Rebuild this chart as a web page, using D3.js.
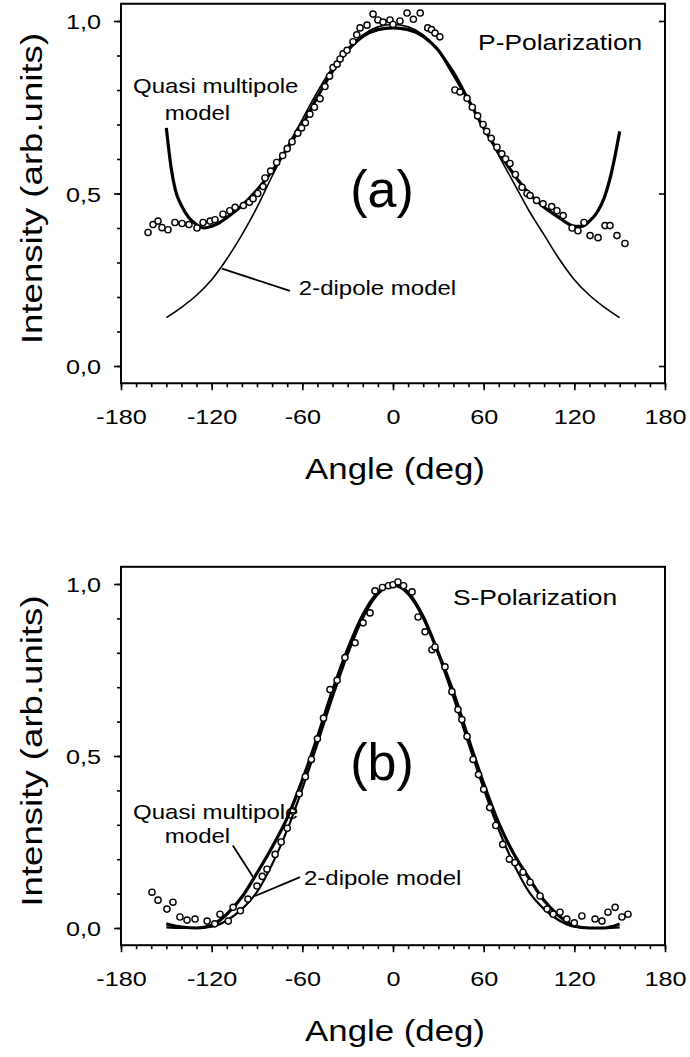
<!DOCTYPE html>
<html>
<head>
<meta charset="utf-8">
<script src="https://cdn.jsdelivr.net/npm/d3@7"></script>
<style>
  body { margin: 0; background: #fff; }
  svg { display: block; font-family: "Liberation Sans", Arial, sans-serif; }
</style>
</head>
<body>
<svg id="chart" width="690" height="1057"></svg>
<script>
// tick values
const angleTicks = [-180, -120, -60, 0, 60, 120, 180];
const angleMinor = d3.range(-180, 181, 10);
const intensityTicks = [0, 0.5, 1];
const intensityMinor = d3.range(0, 1.01, 0.1);

// (a) P-polarization, measured points [angle, intensity]
const pMeasured = [
  [-162.1,0.387],[-158.8,0.41],[-155.5,0.42],[-152.9,0.401],[-148.9,0.395],[-144.3,0.416],
  [-139.6,0.413],[-135,0.41],[-129.7,0.40],[-125.7,0.416],[-121,0.42],[-117.8,0.424],
  [-112.5,0.44],[-108,0.45],[-104.5,0.46],[-99,0.465],[-95,0.475],[-92.6,0.485],
  [-89.5,0.50],[-86,0.52],[-84.7,0.545],[-81,0.565],[-77,0.59],[-73,0.61],[-70,0.63],
  [-66.8,0.65],[-63,0.675],[-60.5,0.69],[-58,0.705],[-55,0.73],[-52,0.75],[-48.3,0.775],
  [-45,0.81],[-42,0.84],[-39.7,0.865],[-37,0.875],[-35,0.89],[-33,0.905],[-30.4,0.915],
  [-26.5,0.94],[-24,0.96],[-21.8,0.98],[-17.2,0.988],[-13.2,1.02],[-10,1.003],[-6.6,0.997],
  [-2,1.003],[0,0.99],[4.6,1.0],[9.3,1.023],[13.5,1.005],[18,1.023],[23,0.98],[25.5,0.975],
  [27.8,0.965],[31,0.954],[41,0.80],[44.3,0.794],[49,0.776],[52.5,0.75],[56,0.725],
  [59.6,0.70],[62,0.68],[65,0.66],[68.8,0.634],[72,0.615],[74.5,0.60],[77.4,0.587],
  [81,0.555],[85.4,0.518],[88.7,0.50],[90.7,0.494],[95,0.48],[99.3,0.47],[105,0.462],
  [108.5,0.45],[112.6,0.436],[118.5,0.40],[122.4,0.392],[126.4,0.416],[130.4,0.378],
  [135.7,0.372],[140.3,0.407],[143.6,0.407],[148.2,0.378],[153.5,0.355]
];

// (a) quasi multipole model (thick)
const pQuasi = [
  [-150,0.69],[-147,0.58],[-144,0.51],[-140,0.465],[-135,0.43],[-130,0.41],[-125,0.40],
  [-120,0.405],[-115,0.415],[-110,0.43],[-100,0.465],[-90,0.51],[-80,0.565],[-70,0.63],
  [-60,0.70],[-50,0.78],[-40,0.855],[-30,0.915],[-20,0.955],[-10,0.975],[0,0.98],
  [10,0.975],[20,0.955],[30,0.915],[40,0.845],[50,0.77],[60,0.69],[70,0.62],[80,0.555],
  [90,0.50],[100,0.46],[110,0.43],[115,0.415],[120,0.405],[125,0.405],[130,0.42],
  [135,0.445],[140,0.49],[144,0.55],[147,0.61],[150,0.68]
];

// (a) 2-dipole model (thin)
const pDipole = [
  [-150,0.14],[-140,0.17],[-130,0.205],[-120,0.25],[-110,0.31],[-100,0.38],[-90,0.46],
  [-80,0.55],[-70,0.635],[-60,0.715],[-50,0.795],[-40,0.865],[-30,0.92],[-20,0.96],
  [-10,0.983],[0,0.99],[10,0.983],[20,0.96],[30,0.915],[40,0.855],[50,0.775],[60,0.69],
  [70,0.61],[80,0.53],[90,0.45],[100,0.38],[110,0.31],[120,0.25],[130,0.205],[140,0.17],[150,0.14]
];

// (b) S-polarization, measured points
const sMeasured = [
  [-159.5,0.104],[-155.5,0.081],[-149.6,0.055],[-145.6,0.075],[-141,0.032],[-136.3,0.023],
  [-131,0.026],[-123,0.02],[-118,0.012],[-114.5,0.04],[-109,0.02],[-105.8,0.06],[-101,0.05],
  [-96,0.084],[-90,0.122],[-86.5,0.15],[-83.4,0.171],[-78,0.214],[-74,0.25],[-70,0.29],
  [-66,0.34],[-62,0.39],[-58,0.44],[-54,0.49],[-50,0.55],[-46,0.61],[-41.7,0.693],
  [-37,0.72],[-31.8,0.786],[-25.1,0.829],[-19.8,0.887],[-15.2,0.916],[-11.9,0.98],
  [-7,0.99],[-3,0.995],[0,0.998],[3.3,1.006],[7,0.995],[12.6,0.977],[16.6,0.904],
  [21.2,0.861],[25.8,0.809],[27.8,0.817],[34.4,0.759],[39,0.687],[43,0.635],[45.6,0.606],
  [49,0.557],[53,0.49],[56.6,0.446],[60,0.403],[64,0.35],[68,0.298],[72.6,0.243],[77,0.2],
  [80.7,0.19],[86,0.162],[90.7,0.133],[97.3,0.093],[102,0.055],[106,0.04],[110.5,0.046],
  [115,0.026],[120,0.015],[125,0.035],[133.7,0.026],[138.3,0.02],[142.3,0.046],[147,0.06],
  [151.5,0.032],[155.5,0.04]
];

// (b) quasi multipole model
const sQuasi = [
  [-150,0.012],[-145,0.006],[-140,0.003],[-130,0.0],[-120,0.008],[-110,0.04],[-100,0.09],
  [-90,0.16],[-80,0.235],[-70,0.32],[-60,0.43],[-50,0.555],[-40,0.69],[-30,0.81],[-20,0.91],
  [-10,0.975],[0,1.0],[10,0.975],[20,0.905],[30,0.80],[40,0.685],[50,0.55],[60,0.42],
  [70,0.305],[80,0.215],[90,0.145],[100,0.08],[110,0.035],[120,0.006],[130,0.0],[140,0.0],
  [145,0.004],[150,0.012]
];

// (b) 2-dipole model
const sDipole = [
  [-150,0.002],[-140,0.0],[-130,0.0],[-120,0.004],[-110,0.022],[-100,0.055],[-90,0.105],
  [-80,0.185],[-70,0.285],[-60,0.405],[-50,0.535],[-40,0.67],[-30,0.795],[-20,0.9],
  [-10,0.97],[0,0.995],[10,0.97],[20,0.9],[30,0.795],[40,0.67],[50,0.535],[60,0.405],
  [70,0.285],[80,0.185],[90,0.105],[100,0.055],[110,0.022],[120,0.004],[130,0.0],[140,0.0],[150,0.002]
];

const svg = d3.select('#chart');
const FONT_SX = 1.2; // the original lettering is wider than Arial

const locale = d3.formatLocale({decimal: ",", thousands: ".", grouping: [3], currency: ["", ""], minus: "-"});
const fmtY = locale.format(".1f");
const fmtX = locale.format("d");

const x = d3.scaleLinear([-180, 180], [121, 665]);

function label(g, px, py, txt, size, opts = {}) {
  const sx = opts.sx ?? FONT_SX;
  const rot = opts.rotate ? ` rotate(${opts.rotate})` : '';
  return g.append('text')
    .attr('transform', `translate(${px},${py})${rot} scale(${sx},1)`)
    .attr('text-anchor', opts.anchor || 'start')
    .style('font-size', size + 'px')
    .attr('fill', '#000')
    .text(txt);
}

function panel(cfg) {
  const y = d3.scaleLinear([0, 1], cfg.yRange);
  const g = svg.append('g');
  const x0 = x(-180), x1 = x(180), yTop = y(1.05), yBot = y(-0.05);

  // frame
  g.append('rect')
    .attr('x', x0).attr('y', yTop)
    .attr('width', x1 - x0).attr('height', yBot - yTop)
    .attr('fill', 'none').attr('stroke', '#000').attr('stroke-width', 2);

  // left axis minor + major
  g.append('g').attr('transform', `translate(${x0},0)`)
    .call(d3.axisLeft(y).tickValues(intensityMinor).tickSize(4).tickFormat(''))
    .call(a => a.select('.domain').remove());
  g.append('g').attr('transform', `translate(${x0},0)`)
    .call(d3.axisLeft(y).tickValues(intensityTicks).tickSize(7).tickFormat(fmtY))
    .call(a => a.select('.domain').remove())
    .call(a => a.selectAll('text')
      .attr('x', -20 / FONT_SX).attr('dy', '0.36em')
      .attr('transform', `scale(${FONT_SX},1)`)
      .style('font-size', '21px').style('font-family', null).attr('fill', '#000'));

  if (cfg.rightTicks) {
    g.append('g').attr('transform', `translate(${x1},0)`)
      .call(d3.axisLeft(y).tickValues(intensityTicks).tickSize(6).tickFormat(''))
      .call(a => a.select('.domain').remove());
  }

  // bottom axis
  g.append('g').attr('transform', `translate(0,${yBot})`)
    .call(d3.axisBottom(x).tickValues(angleMinor).tickSize(4).tickFormat(''))
    .call(a => a.select('.domain').remove());
  g.append('g').attr('transform', `translate(0,${yBot})`)
    .call(d3.axisBottom(x).tickValues(angleTicks).tickSize(7).tickFormat(fmtX))
    .call(a => a.select('.domain').remove())
    .call(a => a.selectAll('text')
      .attr('y', 41).attr('dy', 0)
      .attr('transform', `scale(${FONT_SX},1)`)
      .style('font-size', '21px').style('font-family', null).attr('fill', '#000'));
  g.selectAll('.tick line').attr('stroke', '#000').attr('stroke-width', 1.6);

  // axis titles
  label(g, 395, yBot + 96, 'Angle (deg)', 29, {anchor: 'middle'});
  label(g, 42, y(0.5) - 5, 'Intensity (arb.units)', 30, {anchor: 'middle', rotate: -90, sx: 1.22});

  const line = d3.line().x(d => x(d[0])).y(d => y(d[1])).curve(d3.curveMonotoneX);

  g.append('path').datum(cfg.dipole)
    .attr('d', line).attr('fill', 'none').attr('stroke', '#000')
    .attr('stroke-width', cfg.dipoleWidth);
  g.append('path').datum(cfg.quasi)
    .attr('d', line).attr('fill', 'none').attr('stroke', '#000')
    .attr('stroke-width', 3.2);

  g.append('g').selectAll('circle').data(cfg.measured).join('circle')
    .attr('cx', d => x(d[0])).attr('cy', d => y(d[1])).attr('r', 3.1)
    .attr('fill', '#fff').attr('stroke', '#000').attr('stroke-width', 1.4);

  // leader lines
  cfg.leaders.forEach(l => {
    g.append('line')
      .attr('x1', x(l[0][0])).attr('y1', y(l[0][1]))
      .attr('x2', x(l[1][0])).attr('y2', y(l[1][1]))
      .attr('stroke', '#000').attr('stroke-width', 1.8);
  });

  cfg.notes.forEach(n => label(g, x(n.at[0]), y(n.at[1]), n.text, n.size,
    {anchor: n.anchor, sx: n.sx}));
}

panel({
  yRange: [366, 21],
  rightTicks: true,
  measured: pMeasured, quasi: pQuasi, dipole: pDipole, dipoleWidth: 1.6,
  leaders: [[[-113.2, 0.282], [-68.2, 0.218]]],
  notes: [
    {text: 'Quasi multipole', at: [-172, 0.79], size: 20},
    {text: 'model', at: [-151, 0.712], size: 20},
    {text: '2-dipole model', at: [-62.3, 0.205], size: 20},
    {text: 'P-Polarization', at: [56.3, 0.916], size: 22},
    {text: '(a)', at: [-7.3, 0.46], size: 52, anchor: 'middle', sx: 1}
  ]
});

panel({
  yRange: [928, 584],
  rightTicks: false,
  measured: sMeasured, quasi: sQuasi, dipole: sDipole, dipoleWidth: 2.2,
  leaders: [[[-106, 0.24], [-92.6, 0.148]], [[-61.5, 0.148], [-91.3, 0.093]]],
  notes: [
    {text: 'Quasi multipole', at: [-172, 0.317], size: 20},
    {text: 'model', at: [-151, 0.247], size: 20},
    {text: '2-dipole model', at: [-58.9, 0.125], size: 20},
    {text: 'S-Polarization', at: [39.7, 0.939], size: 22},
    {text: '(b)', at: [-7.3, 0.43], size: 52, anchor: 'middle', sx: 1}
  ]
});
</script>
</body>
</html>
